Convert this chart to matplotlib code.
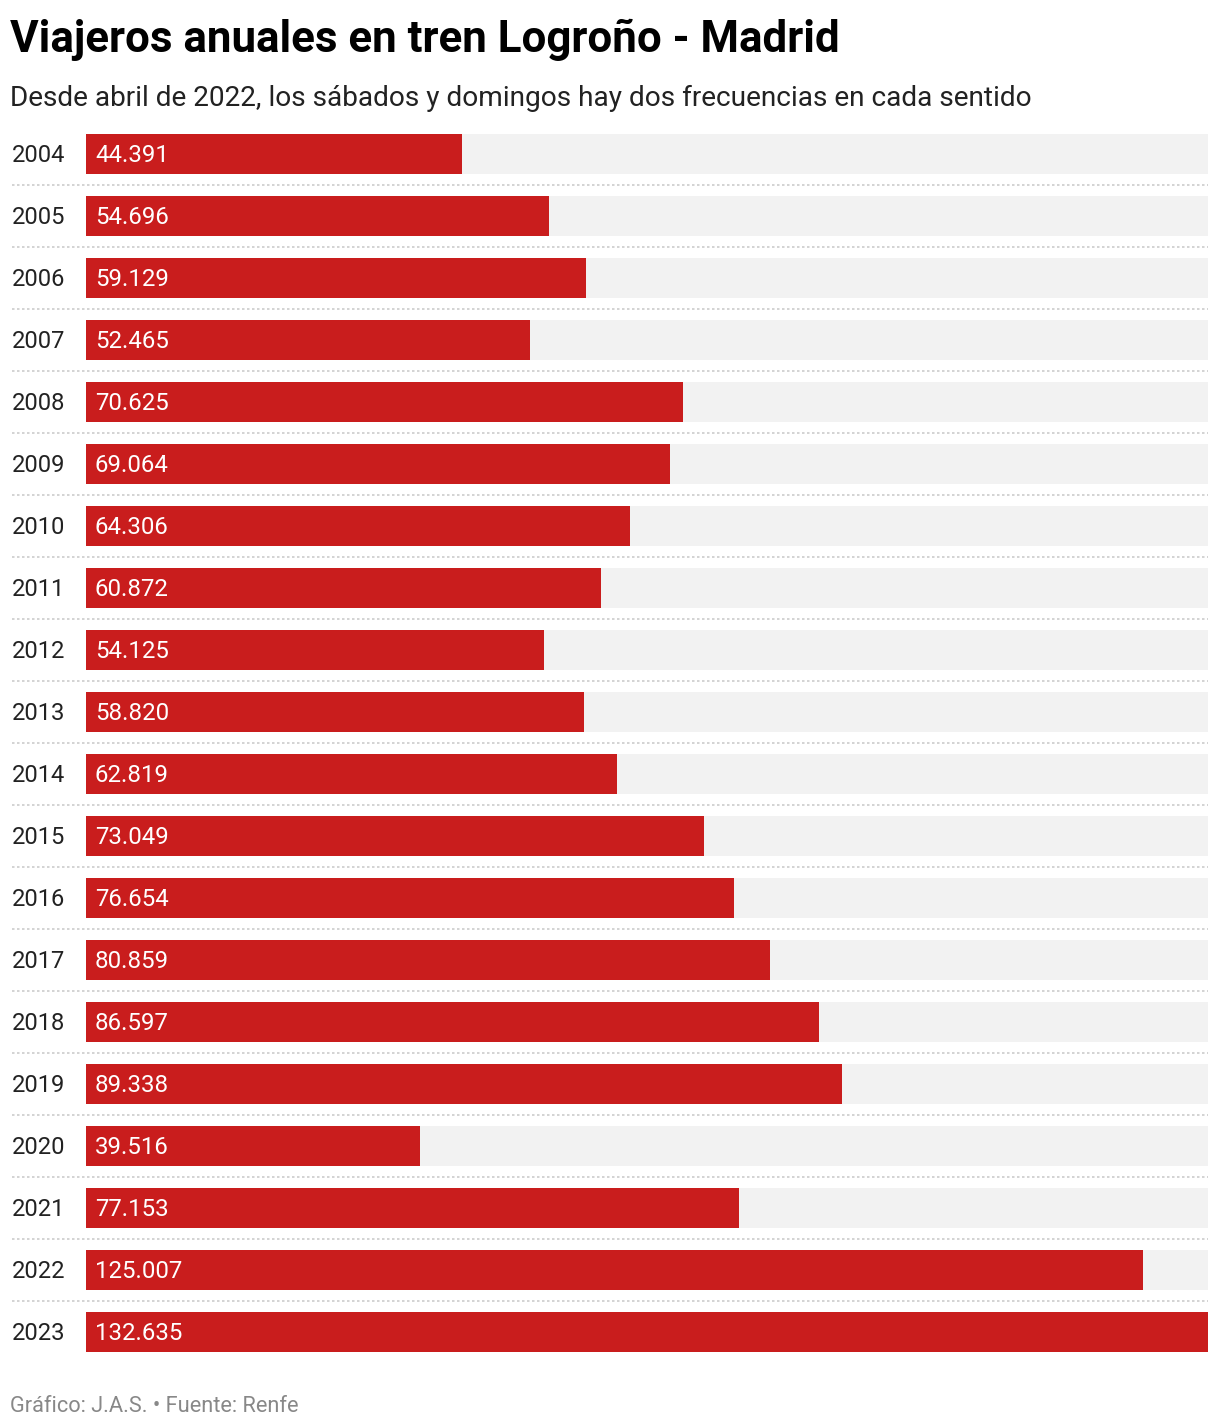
import matplotlib
matplotlib.use("Agg")
import matplotlib.pyplot as plt
from matplotlib.transforms import blended_transform_factory, offset_copy

years = ["2004", "2005", "2006", "2007", "2008", "2009", "2010", "2011", "2012", "2013",
         "2014", "2015", "2016", "2017", "2018", "2019", "2020", "2021", "2022", "2023"]
viajeros = [44391, 54696, 59129, 52465, 70625, 69064, 64306, 60872, 54125, 58820,
            62819, 73049, 76654, 80859, 86597, 89338, 39516, 77153, 125007, 132635]

title = "Viajeros anuales en tren Logroño - Madrid"
subtitle = "Desde abril de 2022, los sábados y domingos hay dos frecuencias en cada sentido"
footer = "Gráfico: J.A.S. • Fuente: Renfe"

plt.rcParams['font.family'] = ['Roboto', 'DejaVu Sans']

W, H = 1220, 1428
fig = plt.figure(figsize=(W / 100, H / 100), dpi=100)

n = len(years)
pitch = 62
top_px = 123
ax_left, ax_right = 86, 1208
ax = fig.add_axes([ax_left / W, 1 - (top_px + pitch * n) / H,
                   (ax_right - ax_left) / W, pitch * n / H])
xmax = max(viajeros)
ax.set_xlim(0, xmax)
ax.set_ylim(n - 0.5, -0.5)
ax.axis("off")

bh = 40 / pitch
idx = list(range(n))
ax.barh(idx, [xmax] * n, height=bh, color="#f2f2f2", zorder=1)
ax.barh(idx, viajeros, height=bh, color="#c91d1d", zorder=2)

def fmt(v):
    return f"{v:,}".replace(",", ".")

tr = blended_transform_factory(fig.transFigure, ax.transData)
tr_txt = offset_copy(tr, fig=fig, x=0, y=0.8, units="points")
for i, (y, v) in enumerate(zip(years, viajeros)):
    ax.text(12 / W, i, y, transform=tr_txt, ha="left", va="center_baseline",
            fontsize=17.1, color="#222222")
    ax.text(95 / W, i, fmt(v), transform=tr_txt, ha="left", va="center_baseline",
            fontsize=17.3, color="white", zorder=3)
    if i < n - 1:
        ax.plot([12 / W, ax_right / W], [i + 0.5, i + 0.5], transform=tr,
                color="#cccccc", lw=1.2, linestyle=(0, (1.5, 1.5)),
                clip_on=False, zorder=0)

fig.text(10 / W, 1 - 52 / H, title, fontsize=31.6, fontweight="bold",
         color="#000000", ha="left", va="baseline")
fig.text(10 / W, 1 - 106 / H, subtitle, fontsize=20.2,
         color="#222222", ha="left", va="baseline")
fig.text(10 / W, 1 - 1412 / H, footer, fontsize=15.7,
         color="#888888", ha="left", va="baseline")

fig.savefig("out.png", dpi=100, facecolor="white")
